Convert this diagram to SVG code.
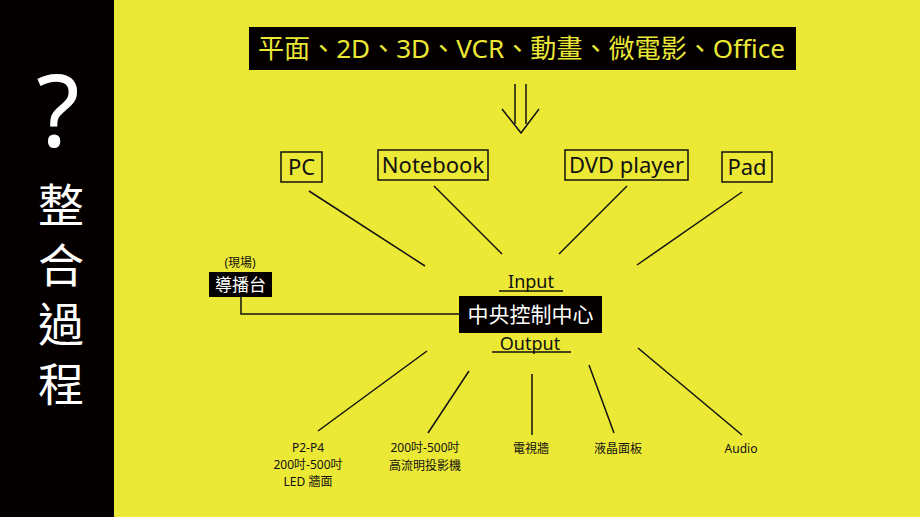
<svg xmlns="http://www.w3.org/2000/svg" width="920" height="517" viewBox="0 0 920 517">
<style>
.bg{fill:#ECE836}
.side{fill:#040000}
.box{fill:none;stroke:#111;stroke-width:1.5}
.blk{fill:#040000}
.ln{stroke:#111;stroke-width:1.5;fill:none}
text{font-family:"Noto Sans","Noto Sans CJK TC",sans-serif}
.lbl{font-size:22px;fill:#111;text-anchor:middle}
.sm{font-size:12px;fill:#111;text-anchor:middle}
.io{font-size:18px;fill:#111;text-anchor:middle}
.wt{fill:#fff;text-anchor:middle}
</style>
<rect class="bg" x="0" y="0" width="920" height="517"/>
<g id="sidebar">
<rect class="side" x="0" y="0" width="114" height="517"/>
<text x="58" y="147" font-size="100" class="wt" font-family="'Noto Sans',sans-serif">?</text>
<text x="61" y="222" font-size="46" class="wt">整</text>
<text x="61" y="282" font-size="46" class="wt">合</text>
<text x="61" y="341" font-size="46" class="wt">過</text>
<text x="61" y="401" font-size="46" class="wt">程</text>
</g>
<g id="title">
<rect class="blk" x="249" y="27" width="547" height="43"/>
<text x="258" y="58" font-size="26" fill="#ECE836" textLength="527" lengthAdjust="spacingAndGlyphs">平面、2D、3D、VCR、動畫、微電影、Office</text>
</g>
<g id="arrow">
<line class="ln" x1="515" y1="84" x2="515" y2="124"/>
<line class="ln" x1="526" y1="84" x2="526" y2="124"/>
<polyline class="ln" points="502,109 521,133 539,109"/>
</g>
<g id="pc"><rect class="box" x="281" y="152" width="41" height="30"/><text class="lbl" x="301.5" y="175">PC</text></g>
<g id="notebook"><rect class="box" x="378" y="150" width="110" height="30"/><text class="lbl" x="433" y="173">Notebook</text></g>
<g id="dvd"><rect class="box" x="565" y="150" width="123" height="30"/><text class="lbl" x="626.5" y="173">DVD player</text></g>
<g id="pad"><rect class="box" x="722" y="152" width="50" height="30"/><text class="lbl" x="747" y="175">Pad</text></g>
<g id="director">
<text class="sm" x="240" y="267">(現場)</text>
<rect class="blk" x="209" y="272" width="63" height="25"/>
<text class="wt" x="240.5" y="291" font-size="17">導播台</text>
</g>
<g id="center">
<text class="io" x="531" y="288">Input</text>
<rect class="blk" x="459" y="296" width="143" height="37"/>
<text class="wt" x="530.5" y="322" font-size="21">中央控制中心</text>
<text class="io" x="530" y="350">Output</text>
</g>
<g id="connectors">
<line class="ln" x1="499" y1="291" x2="563" y2="291"/>
<line class="ln" x1="492" y1="352" x2="571" y2="352"/>
<line class="ln" x1="309" y1="191" x2="425" y2="266"/>
<line class="ln" x1="434" y1="186" x2="502" y2="254"/>
<line class="ln" x1="627" y1="186" x2="559" y2="254"/>
<line class="ln" x1="742" y1="192" x2="637" y2="265"/>
<polyline class="ln" points="241,297 241,314 459,314"/>
<line class="ln" x1="427" y1="351" x2="318" y2="431"/>
<line class="ln" x1="469" y1="371" x2="428" y2="433"/>
<line class="ln" x1="532" y1="374" x2="532" y2="435"/>
<line class="ln" x1="589" y1="365" x2="614" y2="433"/>
<line class="ln" x1="638" y1="348" x2="742" y2="435"/>
</g>
<g id="out-led"><text class="sm" x="308" y="452">P2-P4</text><text class="sm" x="308" y="469">200吋-500吋</text><text class="sm" x="308" y="486">LED 牆面</text></g>
<g id="out-proj"><text class="sm" x="425" y="452">200吋-500吋</text><text class="sm" x="425" y="470">高流明投影機</text></g>
<g id="out-tv"><text class="sm" x="531" y="453">電視牆</text></g>
<g id="out-lcd"><text class="sm" x="618" y="453">液晶面板</text></g>
<g id="out-audio"><text class="sm" x="741" y="453">Audio</text></g>
</svg>
